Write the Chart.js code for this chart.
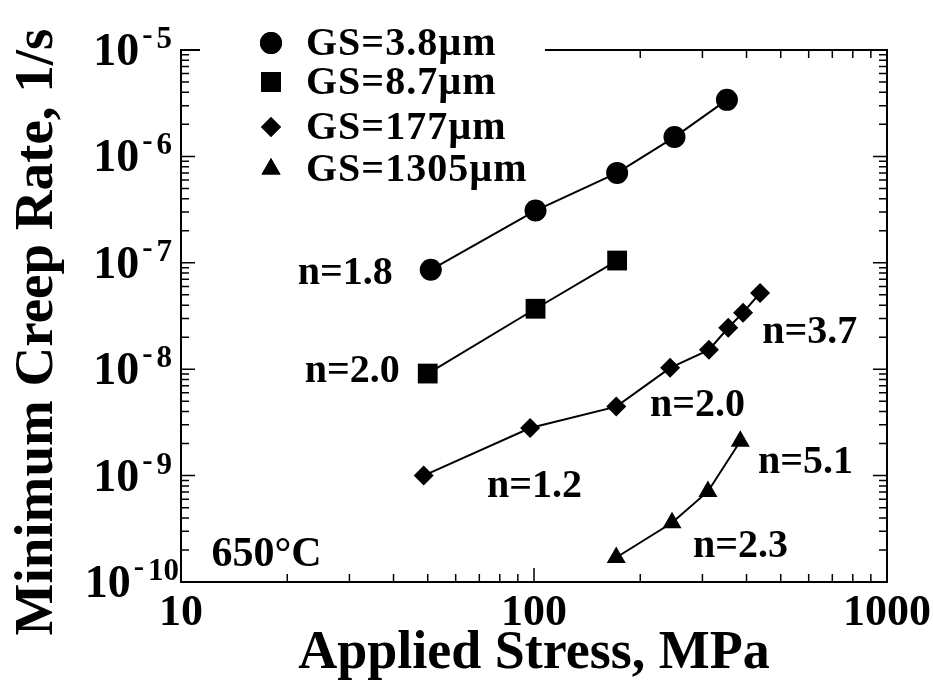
<!DOCTYPE html>
<html>
<head>
<meta charset="utf-8">
<script src="https://cdn.jsdelivr.net/npm/chart.js@4.4.1/dist/chart.umd.min.js"></script>
<style>
  html, body { margin: 0; padding: 0; background: #fff; }
  #wrap { width: 933px; height: 682px; position: relative; }
</style>
</head>
<body>
<div id="wrap"><canvas id="creepChart"></canvas></div>
<script>
// grain size series, stress in MPa, minimum creep rate in 1/s
const seriesNames = ['GS=3.8\u00b5m', 'GS=8.7\u00b5m', 'GS=177\u00b5m', 'GS=1305\u00b5m'];

const stressGS38 = [51, 101, 172, 250, 352];
const rateGS38   = [8.6e-8, 3.1e-7, 7.0e-7, 1.52e-6, 3.4e-6];

const stressGS87 = [50, 101, 172];
const rateGS87   = [9.1e-9, 3.7e-8, 1.05e-7];

const stressGS177 = [48.7, 97.5, 171, 243, 313, 355, 391, 437];
const rateGS177   = [1.0e-9, 2.8e-9, 4.45e-9, 1.03e-8, 1.52e-8, 2.45e-8, 3.4e-8, 5.2e-8];

const stressGS1305 = [171, 246, 311, 384];
const rateGS1305   = [1.7e-10, 3.6e-10, 7.1e-10, 2.1e-9];

const xTickLabels = [10, 100, 1000];
const yTickExps   = [-5, -6, -7, -8, -9, -10];

// slope labels, anchored at (stress, rate)
const noteText   = ['n=1.8', 'n=2.0', 'n=1.2', 'n=2.0', 'n=3.7', 'n=5.1', 'n=2.3', '650\u00b0C'];
const noteStress = [21.4, 22.4, 73.6, 213, 443, 431, 282, 12.2];
const noteRate   = [8.2e-8, 1.0e-8, 8.3e-10, 4.7e-9, 2.29e-8, 1.37e-9, 2.23e-10, 1.88e-10];

const SERIF = '"Liberation Serif", "Times New Roman", serif';

const toPoints = (xs, ys) => xs.map((x, i) => ({ x: x, y: ys[i] }));

const pointStyles = ['circle', 'rect', 'rectRot', 'triangle'];
const pointRadii  = [11, 14, 10, 11];

const datasets = [
  toPoints(stressGS38, rateGS38),
  toPoints(stressGS87, rateGS87),
  toPoints(stressGS177, rateGS177),
  toPoints(stressGS1305, rateGS1305),
].map((pts, i) => ({
  label:            seriesNames[i],
  data:             pts,
  showLine:         true,
  borderColor:      '#000',
  borderWidth:      2,
  backgroundColor:  '#000',
  pointStyle:       pointStyles[i],
  pointRadius:      pointRadii[i],
  pointBorderWidth: 0,
  pointBackgroundColor: '#000',
  tension:          0,
}));

// frame, inner ticks, y labels, titles, legend and notes
const decorPlugin = {
  id: 'decor',
  afterDraw(chart) {
    const ctx = chart.ctx;
    const xs = chart.scales.x;
    const ys = chart.scales.y;
    const { left, right, top, bottom } = chart.chartArea;

    ctx.save();
    ctx.strokeStyle = '#000';
    ctx.fillStyle = '#000';
    ctx.lineWidth = 2;
    ctx.strokeRect(left, top, right - left, bottom - top);

    // x ticks (bottom and top, pointing in)
    ctx.lineWidth = 1.5;
    ctx.beginPath();
    for (let d = 10; d < 1000; d *= 10) {
      for (let m = 1; m <= 10; m++) {
        const px = xs.getPixelForValue(d * m);
        const len = (m === 1 || m === 10) ? 14 : 8;
        ctx.moveTo(px, bottom); ctx.lineTo(px, bottom - len);
        ctx.moveTo(px, top);    ctx.lineTo(px, top + len);
      }
    }
    // y ticks (left and right)
    for (let e = -10; e < -5; e++) {
      const d = Math.pow(10, e);
      for (let m = 1; m <= 10; m++) {
        const py = ys.getPixelForValue(d * m);
        const len = (m === 1 || m === 10) ? 14 : 8;
        ctx.moveTo(left, py);  ctx.lineTo(left + len, py);
        ctx.moveTo(right, py); ctx.lineTo(right - len, py);
      }
    }
    ctx.stroke();

    // y tick labels with superscripts
    ctx.textAlign = 'right';
    ctx.textBaseline = 'alphabetic';
    yTickExps.forEach(e => {
      const py = ys.getPixelForValue(Math.pow(10, e));
      const digits = String(Math.abs(e));
      let xr = digits.length > 1 ? left - 2 : left - 9;
      ctx.font = 'bold 31px ' + SERIF;
      ctx.fillText(digits, xr, py - 2);
      xr -= ctx.measureText(digits).width + 4;
      ctx.fillText('-', xr, py - 6);
      xr -= ctx.measureText('-').width + 3;
      ctx.font = 'bold 46px ' + SERIF;
      ctx.fillText('10', xr, py + 15);
    });

    // axis titles
    ctx.font = 'bold 54px ' + SERIF;
    ctx.textAlign = 'center';
    ctx.fillText('Applied Stress, MPa', (left + right) / 2, 668);

    ctx.save();
    ctx.translate(52, 332);
    ctx.rotate(-Math.PI / 2);
    ctx.font = 'bold 55px ' + SERIF;
    ctx.fillText('Minimum Creep Rate, 1/s', 0, 0);
    ctx.restore();

    // legend on a white patch over the top frame
    ctx.fillStyle = '#fff';
    ctx.fillRect(200, 0, 345, 188);
    ctx.fillStyle = '#000';
    const rowY = [43, 82, 127, 169];
    chart.data.datasets.forEach((ds, i) => {
      Chart.helpers.drawPoint(ctx, {
        pointStyle: ds.pointStyle,
        radius: ds.pointRadius,
        borderWidth: 0,
        rotation: 0,
      }, 271, rowY[i]);
      ctx.fill();
      ctx.font = 'bold 40px ' + SERIF;
      ctx.letterSpacing = '1px';
      ctx.textAlign = 'left';
      ctx.textBaseline = 'middle';
      ctx.fillText(ds.label, 306, rowY[i] + 2);
      ctx.letterSpacing = '0px';
    });

    // slope notes
    noteText.forEach((t, i) => {
      const px = xs.getPixelForValue(noteStress[i]);
      const py = ys.getPixelForValue(noteRate[i]);
      ctx.font = (i === noteText.length - 1 ? 'bold 42px ' : 'bold 40px ') + SERIF;
      ctx.textAlign = 'left';
      ctx.textBaseline = 'middle';
      ctx.fillText(t, px, py + 2);
    });
    ctx.restore();
  }
};

const ctx = document.getElementById('creepChart').getContext('2d');
new Chart(ctx, {
  type: 'scatter',
  data: { datasets: datasets },
  options: {
    responsive: true,
    maintainAspectRatio: false,
    animation: false,
    layout: { padding: { top: 50, right: 46, left: 0, bottom: 0 } },
    plugins: {
      legend:  { display: false },
      tooltip: { enabled: false },
    },
    scales: {
      x: {
        type: 'logarithmic',
        min: 10,
        max: 1000,
        grid:   { display: false, drawTicks: false },
        border: { display: false },
        ticks: {
          autoSkip: false,
          maxRotation: 0,
          padding: 5,
          color: '#000',
          font: { family: SERIF, size: 44, weight: 'bold' },
          callback: (val) => xTickLabels.includes(val) ? String(val) : '',
        },
        afterFit: (scale) => {
          scale.height = 100;
          scale.paddingLeft = 0;
          scale.paddingRight = 0;
        },
      },
      y: {
        type: 'logarithmic',
        min: 1e-10,
        max: 1e-5,
        grid:   { display: false, drawTicks: false },
        border: { display: false },
        ticks:  { display: false },
        afterFit: (scale) => { scale.width = 181; },
      }
    }
  },
  plugins: [decorPlugin],
});
</script>
</body>
</html>
